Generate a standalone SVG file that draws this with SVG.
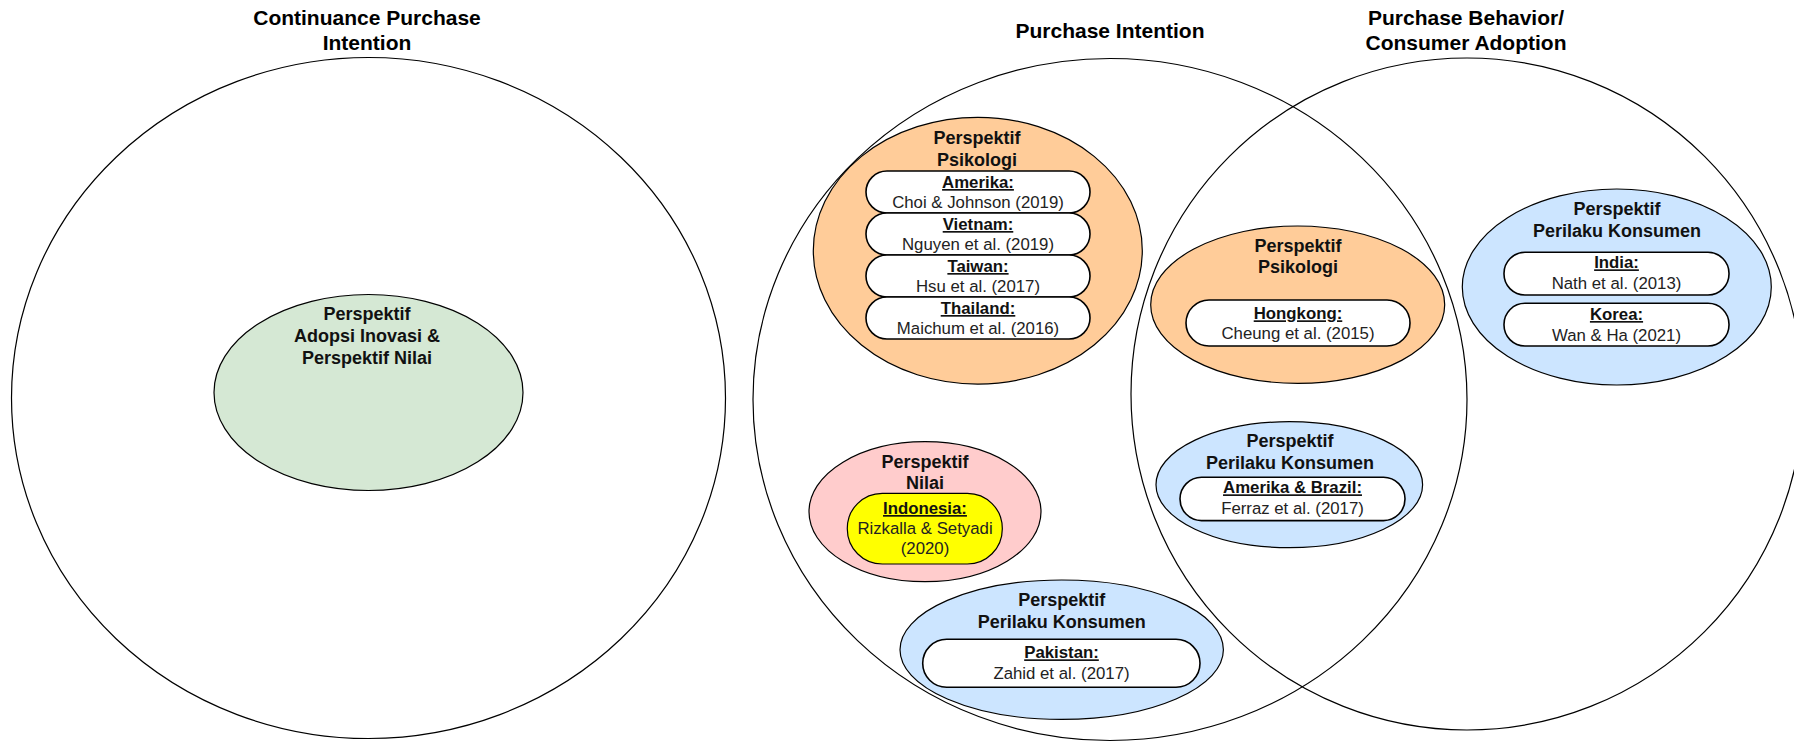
<svg xmlns="http://www.w3.org/2000/svg" width="1794" height="744" viewBox="0 0 1794 744">
<style>
  .big{fill:none;stroke:#000;stroke-width:1.2}
  .node{stroke:#000;stroke-width:1.2}
  .pill{fill:#fff;stroke:#000;stroke-width:1.6}
  .title{font-family:"Liberation Sans",Arial,sans-serif;font-size:21px;font-weight:bold;fill:#000;text-anchor:middle}
  .lbl{font-family:"Liberation Sans",Arial,sans-serif;font-size:18px;font-weight:bold;fill:#111;text-anchor:middle}
  .cty{font-family:"Liberation Sans",Arial,sans-serif;font-size:16.8px;font-weight:bold;fill:#111;text-anchor:middle;text-decoration:underline}
  .ref{font-family:"Liberation Sans",Arial,sans-serif;font-size:16.8px;fill:#222;text-anchor:middle}
  .orange{fill:#FFCC99}
  .blue{fill:#CCE5FF}
  .green{fill:#D5E8D4}
  .pink{fill:#FFCCCC}
</style>
<rect x="0" y="0" width="1794" height="744" fill="#fff"/>

<g id="titles">
  <text class="title" x="367" y="25">Continuance Purchase</text>
  <text class="title" x="367" y="50">Intention</text>
  <text class="title" x="1110" y="38">Purchase Intention</text>
  <text class="title" x="1466" y="25">Purchase Behavior/</text>
  <text class="title" x="1466" y="50">Consumer Adoption</text>
</g>

<g id="node-adopsi">
  <ellipse class="node green" cx="368.5" cy="392.5" rx="154.5" ry="98"/>
  <text class="lbl" x="367" y="320">Perspektif</text>
  <text class="lbl" x="367" y="342">Adopsi Inovasi &amp;</text>
  <text class="lbl" x="367" y="363.5">Perspektif Nilai</text>
</g>

<g id="node-psikologi-1">
  <ellipse class="node orange" cx="977.8" cy="250.7" rx="164.5" ry="133.4"/>
  <text class="lbl" x="977" y="144">Perspektif</text>
  <text class="lbl" x="977" y="166">Psikologi</text>
  <rect class="pill" x="866" y="171" width="224" height="42" rx="21"/>
  <text class="cty" x="978" y="188">Amerika:</text>
  <text class="ref" x="978" y="208">Choi &amp; Johnson (2019)</text>
  <rect class="pill" x="866" y="213" width="224" height="42" rx="21"/>
  <text class="cty" x="978" y="230">Vietnam:</text>
  <text class="ref" x="978" y="250">Nguyen et al. (2019)</text>
  <rect class="pill" x="866" y="255" width="224" height="42" rx="21"/>
  <text class="cty" x="978" y="272">Taiwan:</text>
  <text class="ref" x="978" y="292">Hsu et al. (2017)</text>
  <rect class="pill" x="866" y="297" width="224" height="42" rx="21"/>
  <text class="cty" x="978" y="314">Thailand:</text>
  <text class="ref" x="978" y="334">Maichum et al. (2016)</text>
</g>

<g id="node-psikologi-2">
  <ellipse class="node orange" cx="1297.7" cy="304.7" rx="147" ry="78.7"/>
  <text class="lbl" x="1298" y="251.7">Perspektif</text>
  <text class="lbl" x="1298" y="273.3">Psikologi</text>
  <rect class="pill" x="1186" y="300" width="224" height="46" rx="23"/>
  <text class="cty" x="1298" y="319.3">Hongkong:</text>
  <text class="ref" x="1298" y="339.3">Cheung et al. (2015)</text>
</g>

<g id="node-konsumen-right">
  <ellipse class="node blue" cx="1616.8" cy="287" rx="154.5" ry="98"/>
  <text class="lbl" x="1617" y="215">Perspektif</text>
  <text class="lbl" x="1617" y="237.3">Perilaku Konsumen</text>
  <rect class="pill" x="1504" y="252.3" width="225" height="42.7" rx="21"/>
  <text class="cty" x="1616.5" y="268.3">India:</text>
  <text class="ref" x="1616.5" y="289.3">Nath et al. (2013)</text>
  <rect class="pill" x="1504" y="303.3" width="225" height="42.7" rx="21"/>
  <text class="cty" x="1616.5" y="320">Korea:</text>
  <text class="ref" x="1616.5" y="340.7">Wan &amp; Ha (2021)</text>
</g>

<g id="node-konsumen-ferraz">
  <ellipse class="node blue" cx="1289.3" cy="484.7" rx="133.3" ry="63"/>
  <text class="lbl" x="1290" y="447.3">Perspektif</text>
  <text class="lbl" x="1290" y="469.3">Perilaku Konsumen</text>
  <rect class="pill" x="1180" y="477.3" width="225" height="43.3" rx="21.5"/>
  <text class="cty" x="1292.5" y="493.3">Amerika &amp; Brazil:</text>
  <text class="ref" x="1292.5" y="514.3">Ferraz et al. (2017)</text>
</g>

<g id="node-nilai">
  <ellipse class="node pink" cx="925" cy="511.7" rx="116" ry="70"/>
  <text class="lbl" x="925" y="467.7">Perspektif</text>
  <text class="lbl" x="925" y="489.3">Nilai</text>
  <rect class="node" fill="#FFFF00" x="847.3" y="493.3" width="155" height="70.7" rx="35"/>
  <text class="cty" x="925" y="514">Indonesia:</text>
  <text class="ref" x="925" y="534">Rizkalla &amp; Setyadi</text>
  <text class="ref" x="925" y="554">(2020)</text>
</g>

<g id="node-konsumen-pakistan">
  <ellipse class="node blue" cx="1061.7" cy="649.7" rx="161.7" ry="69.7"/>
  <text class="lbl" x="1061.7" y="606">Perspektif</text>
  <text class="lbl" x="1061.7" y="628.3">Perilaku Konsumen</text>
  <rect class="pill" x="922.7" y="639.3" width="277.3" height="48" rx="24"/>
  <text class="cty" x="1061.5" y="658.3">Pakistan:</text>
  <text class="ref" x="1061.5" y="679">Zahid et al. (2017)</text>
</g>

<g id="circles">
  <ellipse id="circle-continuance" class="big" cx="368.5" cy="398" rx="357" ry="340.5"/>
  <ellipse id="circle-intention" class="big" cx="1110" cy="399.5" rx="357" ry="341"/>
  <ellipse id="circle-behavior" class="big" cx="1467" cy="394" rx="336" ry="336"/>
</g>

<g id="connectors"></g>
</svg>
